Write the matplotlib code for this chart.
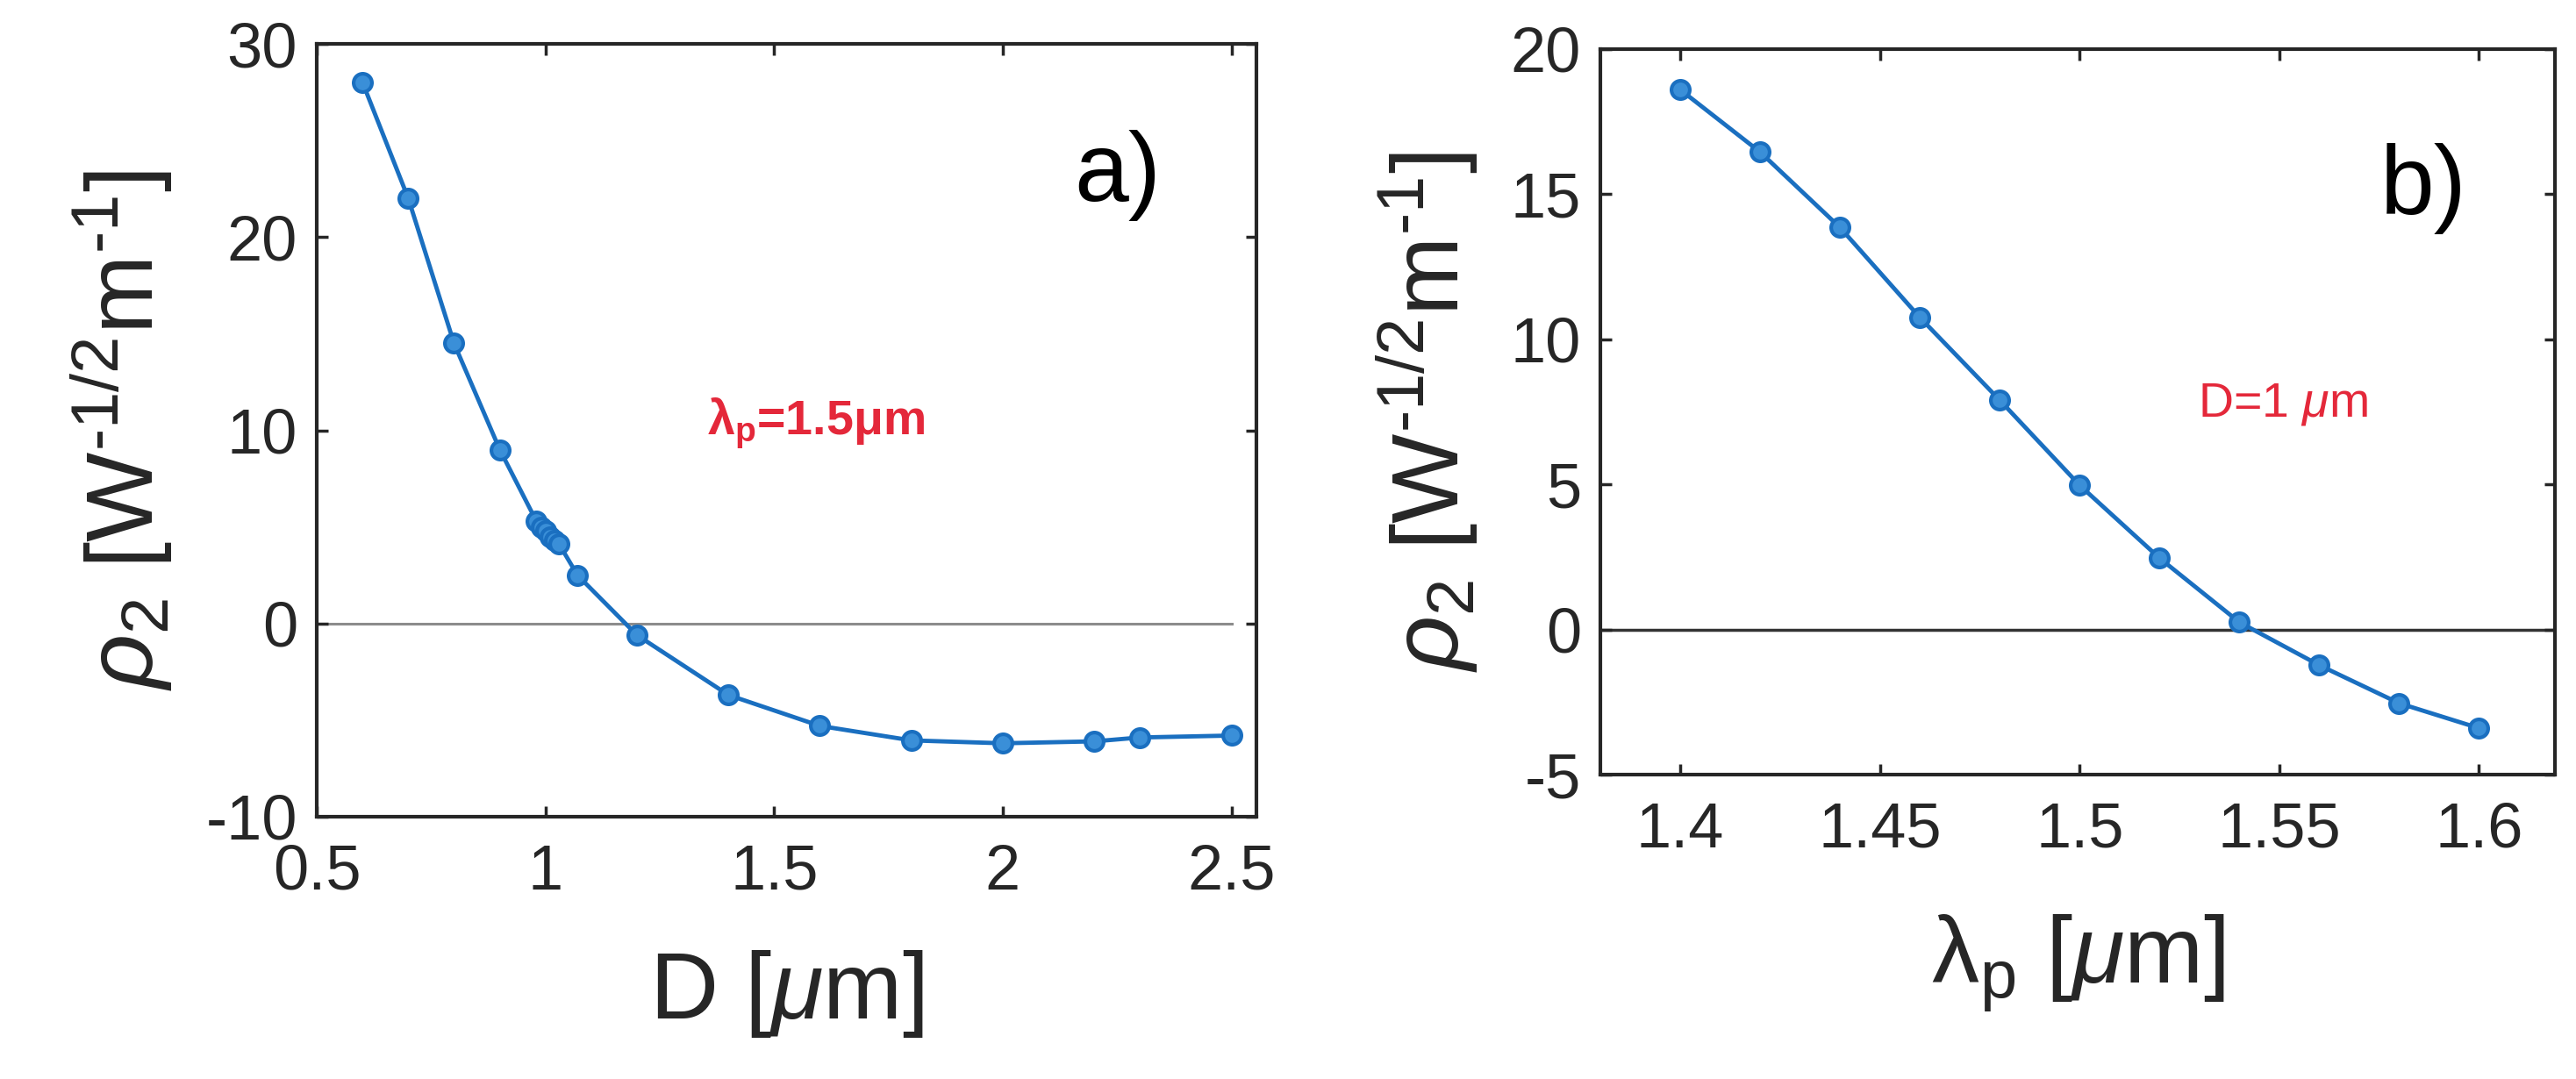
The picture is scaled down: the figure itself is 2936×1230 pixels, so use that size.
import numpy as np
import matplotlib
matplotlib.use('Agg')
import matplotlib.pyplot as plt

plt.rcParams['font.family'] = ['Liberation Sans', 'DejaVu Sans']
plt.rcParams['mathtext.fontset'] = 'custom'
plt.rcParams['mathtext.rm'] = 'Liberation Sans'
plt.rcParams['mathtext.it'] = 'Liberation Sans:italic'
plt.rcParams['mathtext.bf'] = 'Liberation Sans:bold'
plt.rcParams['axes.unicode_minus'] = False

# panel a) rho_2 against diameter D, at lambda_p = 1.5 um
D_um = [0.6, 0.7, 0.8, 0.9, 0.98, 0.99, 1.0, 1.01, 1.02, 1.03, 1.07,
        1.2, 1.4, 1.6, 1.8, 2.0, 2.2, 2.3, 2.5]
rho_a = [28.0, 22.0, 14.5, 9.0, 5.3, 5.0, 4.8, 4.5, 4.3, 4.1, 2.5,
         -0.6, -3.7, -5.3, -6.05, -6.2, -6.1, -5.9, -5.8]

# panel b) rho_2 against pump wavelength, at D = 1 um
lam_um = [1.40, 1.42, 1.44, 1.46, 1.48, 1.50, 1.52, 1.54, 1.56, 1.58, 1.60]
rho_b = [18.6, 16.45, 13.85, 10.75, 7.9, 4.97, 2.46, 0.25, -1.23, -2.54, -3.4]

xticks_a = [0.5, 1, 1.5, 2, 2.5]
xticklabels_a = ['0.5', '1', '1.5', '2', '2.5']
yticks_a = [-10, 0, 10, 20, 30]
xticks_b = [1.4, 1.45, 1.5, 1.55, 1.6]
xticklabels_b = ['1.4', '1.45', '1.5', '1.55', '1.6']
yticks_b = [-5, 0, 5, 10, 15, 20]

blue = '#1a6fc0'
blue_fill = '#3a8fd8'
red = '#e4283a'
axis_col = '#262626'

fig = plt.figure(figsize=(29.36, 12.30), dpi=100)
ax1 = fig.add_axes([0.1230, 0.2431, 0.3648, 0.7162])
ax2 = fig.add_axes([0.6213, 0.2821, 0.3705, 0.6724])

# hyphen (U+2010) instead of the maths minus, as in the original
ylab = '$\\rho_2$ [W$^{\\mathregular{\u20101/2}}$m$^{\\mathregular{\u20101}}$]'


def style(ax):
    for s in ax.spines.values():
        s.set_linewidth(3.0)
        s.set_color(axis_col)
    ax.tick_params(direction='in', length=9, width=2.5, colors=axis_col,
                   top=True, right=True, labelsize=52)
    ax.tick_params(axis='x', pad=22)
    ax.tick_params(axis='y', pad=16)


# ---- a)
ax1.plot([0.5, 2.5], [0, 0], color='#8c8c8c', lw=2.2, zorder=1)
ax1.plot(D_um, rho_a, '-o', color=blue, lw=3.5, ms=15,
         mfc=blue_fill, mec=blue, mew=3, zorder=3)
ax1.set_xlim(0.5, 2.555)
ax1.set_ylim(-10, 30)
ax1.set_xticks(xticks_a)
ax1.set_xticklabels(xticklabels_a)
ax1.set_yticks(yticks_a)
style(ax1)
ax1.set_xlabel(r'D [$\mu$m]', fontsize=78, color=axis_col)
ax1.xaxis.set_label_coords(0.5, -0.17)
ax1.set_ylabel(ylab, fontsize=78, color=axis_col)
ax1.yaxis.set_label_coords(-0.15, 0.5)
ax1.text(2.25, 23.2, 'a)', fontsize=80, ha='center', va='center')
ax1.text(1.353, 9.8, r'$\mathbf{\lambda}_\mathbf{p}$=1.5$\mathbf{\mu}$m', fontsize=40,
         color=red, ha='left', va='baseline', fontweight='bold')

# ---- b)
ax2.axhline(0, color='#333333', lw=2.5, zorder=1)
ax2.plot(lam_um, rho_b, '-o', color=blue, lw=3.5, ms=15,
         mfc=blue_fill, mec=blue, mew=3, zorder=3)
ax2.set_xlim(1.38, 1.619)
ax2.set_ylim(-5, 20)
ax2.set_xticks(xticks_b)
ax2.set_xticklabels(xticklabels_b)
ax2.set_yticks(yticks_b)
style(ax2)
ax2.set_xlabel(r'$\mathrm{\lambda}_\mathrm{p}$ [$\mu$m]', fontsize=78, color=axis_col)
ax2.xaxis.set_label_coords(0.5, -0.19)
ax2.set_ylabel(ylab, fontsize=78, color=axis_col)
ax2.yaxis.set_label_coords(-0.125, 0.5)
ax2.text(1.586, 15.2, 'b)', fontsize=80, ha='center', va='center')
ax2.text(1.5296, 7.35, r'D=1 $\mu$m', fontsize=40, color=red,
         ha='left', va='baseline')

fig.savefig('out.png', dpi=100)
